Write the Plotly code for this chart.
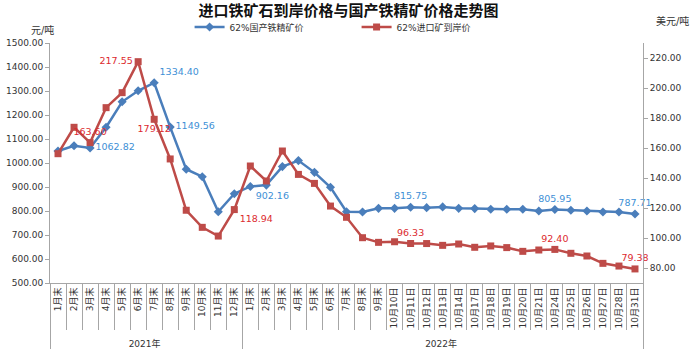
import plotly.graph_objects as go

# ---------------- data ----------------
years = ["2021年", "2022年"]
cats_2021 = ["1月末", "2月末", "3月末", "4月末", "5月末", "6月末", "7月末", "8月末",
             "9月末", "10月末", "11月末", "12月末"]
cats_2022 = ["1月末", "2月末", "3月末", "4月末", "5月末", "6月末", "7月末", "8月末", "9月末",
             "10月10日", "10月11日", "10月12日", "10月13日", "10月14日", "10月17日",
             "10月18日", "10月19日", "10月20日", "10月21日", "10月24日", "10月25日",
             "10月26日", "10月27日", "10月28日", "10月31日"]

domestic_2021 = [1050, 1072, 1062.82, 1149, 1255, 1301, 1334.40, 1149.56, 974, 943, 797, 872]
domestic_2022 = [902.16, 908, 985, 1010, 961, 899, 797, 796, 811,
                 811, 815.75, 814, 817, 811, 810, 807, 807, 807, 800, 805.95, 803, 800,
                 796, 796, 787.71]

imported_2021 = [156.2, 173.8, 163.60, 186.9, 196.9, 217.55, 179.12, 152.7, 118.5, 107.1,
                 101.3, 118.94]
imported_2022 = [148, 138, 158, 142.4, 136.4, 121.3, 113.8, 100.2, 97.1,
                 97.5, 96.33, 96.3, 95.1, 96, 93.8, 94.7, 93.6, 91.1, 92, 92.40, 89.8, 88,
                 83.1, 81.3, 79.38]

# labelled points: index -> text position
domestic_labels = {2: "middle right", 6: "top right", 7: "middle right", 12: "bottom right",
                   22: "top center", 31: "top center", 36: "top center"}
imported_labels = {2: "top center", 5: "middle left", 6: "bottom center", 11: "bottom right",
                   22: "top center", 31: "top center", 36: "top center"}

title_text = "进口铁矿石到岸价格与国产铁精矿价格走势图"
name_domestic = "62%国产铁精矿价"
name_imported = "62%进口矿到岸价"
left_unit = "元/吨"
right_unit = "美元/吨"

# ---------------- build ----------------
x_year = [years[0]] * len(cats_2021) + [years[1]] * len(cats_2022)
x_cat = cats_2021 + cats_2022
domestic = domestic_2021 + domestic_2022
imported = imported_2021 + imported_2022
n = len(x_cat)

def label_arrays(values, labels):
    texts, poss = [], []
    for i, v in enumerate(values):
        if i in labels:
            texts.append(f"{v:.2f}")
            poss.append(labels[i])
        else:
            texts.append("")
            poss.append("top center")
    return texts, poss

d_text, d_pos = label_arrays(domestic, domestic_labels)
i_text, i_pos = label_arrays(imported, imported_labels)

FONT = "DejaVu Sans, Noto Sans CJK SC"
BLUE = "#4a7ebb"
RED = "#be4b48"

fig = go.Figure()
fig.add_trace(go.Scatter(
    x=[x_year, x_cat], y=domestic, name=name_domestic, mode="lines+markers+text",
    line=dict(color=BLUE, width=2.5),
    marker=dict(symbol="diamond", size=7, color=BLUE),
    text=d_text, textposition=d_pos,
    textfont=dict(color="#3d8fd6", size=9.5, family=FONT),
    cliponaxis=False, yaxis="y"))
fig.add_trace(go.Scatter(
    x=[x_year, x_cat], y=imported, name=name_imported, mode="lines+markers+text",
    line=dict(color=RED, width=2.5),
    marker=dict(symbol="square", size=7, color=RED),
    text=i_text, textposition=i_pos,
    textfont=dict(color="#dc2a2e", size=9.5, family=FONT),
    cliponaxis=False, yaxis="y2"))

fig.update_layout(
    width=697, height=356,
    margin=dict(l=50, r=54, t=43, b=73, autoexpand=False),
    paper_bgcolor="white", plot_bgcolor="white",
    font=dict(family=FONT, size=9, color="#404040"),
    title=dict(text="<b>" + title_text + "</b>", x=0.5, xanchor="center",
               y=0.97, yanchor="middle",
               font=dict(family="Noto Sans CJK SC", size=15, color="#111")),
    showlegend=True,
    legend=dict(orientation="h", xref="container", x=0.272, xanchor="left",
                yref="container", y=0.924, yanchor="middle",
                font=dict(size=9, family=FONT, color="#333"),
                entrywidth=122, bgcolor="rgba(0,0,0,0)", itemwidth=30),
    xaxis=dict(type="multicategory", tickangle=-90, showgrid=False,
               range=[-0.5, n - 0.5], autorange=False,
               showline=True, linecolor="#a6a6a6", linewidth=1,
               ticks="outside", tickson="boundaries", ticklen=46, tickcolor="#a6a6a6",
               showdividers=True, dividercolor="#a6a6a6", dividerwidth=1,
               tickfont=dict(size=9, family=FONT, color="#333"), automargin=False),
    yaxis=dict(range=[500, 1500], dtick=100, tickformat=".2f", showgrid=False,
               showline=True, linecolor="#a6a6a6", ticks="outside", ticklen=4,
               tickcolor="#a6a6a6", zeroline=False,
               tickfont=dict(size=9, family=FONT, color="#333"), automargin=False),
    yaxis2=dict(range=[70, 230], dtick=20, tickformat=".2f", overlaying="y", side="right",
                showgrid=False, showline=True, linecolor="#a6a6a6", ticks="outside",
                ticklen=4, tickcolor="#a6a6a6", zeroline=False,
                tickfont=dict(size=9, family=FONT, color="#333"), automargin=False),
    annotations=[
        dict(text=left_unit, xref="paper", yref="paper", x=-0.012, y=1.054,
             xanchor="center", yanchor="middle", showarrow=False,
             font=dict(size=10, family=FONT, color="#333")),
        dict(text=right_unit, xref="paper", yref="paper", x=1.018, y=1.09,
             xanchor="left", yanchor="middle", showarrow=False,
             font=dict(size=10, family=FONT, color="#333")),
    ],
)

fig.write_html("out.html", config={"displayModeBar": False},
               post_script="document.body.style.margin='0';")
